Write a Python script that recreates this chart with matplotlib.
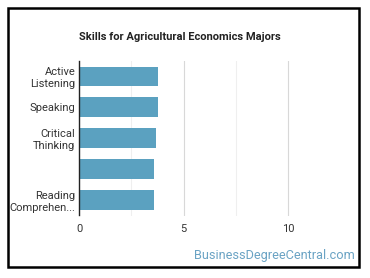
import matplotlib
matplotlib.use("Agg")
import matplotlib.pyplot as plt
from matplotlib.patches import Rectangle

categories = ["Active\nListening", "Speaking", "Critical\nThinking", "", "Reading\nComprehen..."]
values = [3.75, 3.75, 3.70, 3.60, 3.56]
xticks = [0, 5, 10]
title = "Skills for Agricultural Economics Majors"
watermark = "BusinessDegreeCentral.com"

plt.rcParams['font.family'] = ['Roboto', 'DejaVu Sans']

W, H = 370, 278
fig = plt.figure(figsize=(W/100, H/100), dpi=100)
ax = fig.add_axes([79.3/W, 1-215.5/H, (340-79.3)/W, (215.5-60.8)/H])

y = list(range(len(categories)))
ax.barh(y, values, height=0.63, color='#5ba1c0', zorder=3)
ax.set_ylim(len(categories)-0.5, -0.5)
ax.set_xlim(0, 12.5)
ax.set_yticks(y)
ax.set_yticklabels(categories, fontsize=8, color='#333333', linespacing=1.2)
ax.set_xticks(xticks)
ax.set_xticklabels([str(t) for t in xticks], fontsize=8, color='#333333')
ax.set_xticks([2.5, 7.5], minor=True)
ax.tick_params(axis='both', which='both', length=0)
ax.tick_params(axis='x', pad=6)
ax.tick_params(axis='y', pad=3)
ax.grid(axis='x', which='major', color='#d8d8d8', linewidth=0.8, zorder=0)
ax.grid(axis='x', which='minor', color='#efefef', linewidth=0.8, zorder=0)
for s in ['top', 'right', 'bottom']:
    ax.spines[s].set_visible(False)
ax.spines['left'].set_color('#222222')
ax.spines['left'].set_linewidth(1.0)
ax.spines['left'].set_zorder(4)

fig.text(179.5/W, 1-37/H, title, ha='center', va='center', fontsize=8, fontweight='bold', color='#222222')
fig.text(355/W, 1-255/H, watermark, ha='right', va='center', fontsize=9.2, color='#6aa3c4')

fig.patches.append(Rectangle((8/W, 1-267/H), (359-8)/W, (267-8)/H, transform=fig.transFigure,
                             fill=False, edgecolor='black', linewidth=1.8))

fig.savefig("out.png", dpi=100)
